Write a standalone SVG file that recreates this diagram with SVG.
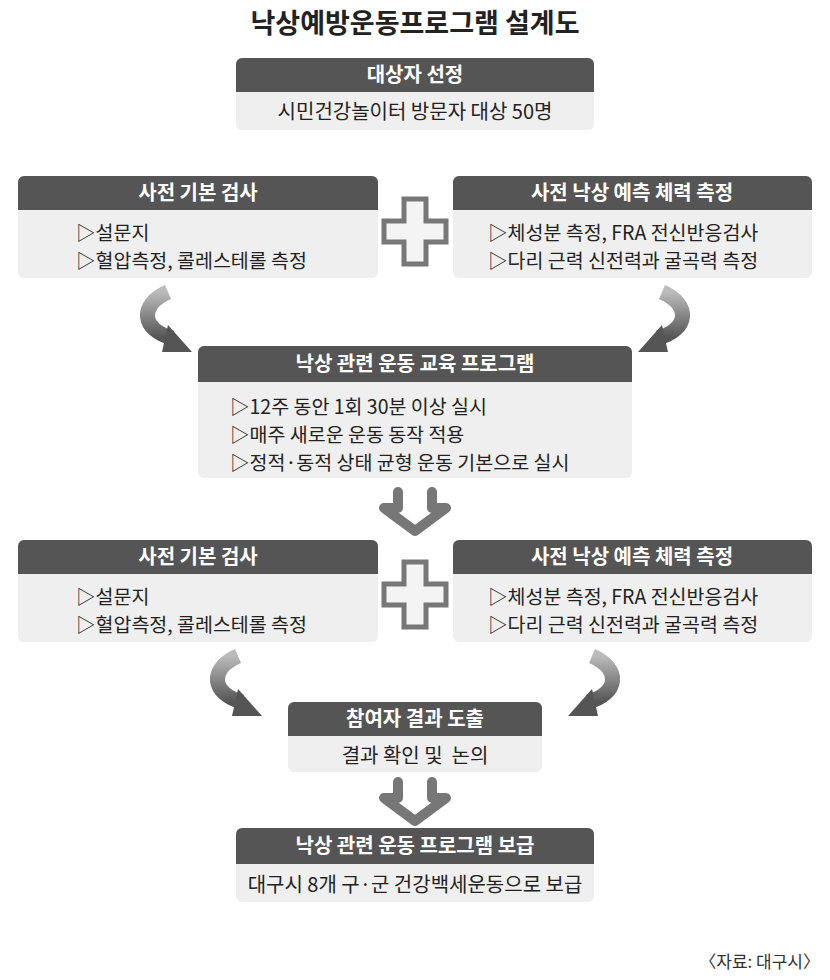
<svg xmlns="http://www.w3.org/2000/svg" width="830" height="980" viewBox="0 0 830 980">
<defs>
<style>
text{font-family:"Noto Sans CJK KR","Noto Sans",sans-serif;}
.hd{fill:#555;}
.bd{fill:#efefef;}
.ht{fill:#fff;font-size:20px;font-weight:bold;text-anchor:middle;}
.bt{fill:#222;font-size:19.5px;}
.btc{fill:#222;font-size:20px;text-anchor:middle;}
.plus{fill:#f4f4f4;stroke:#777;stroke-width:5;}
.curve{fill:none;stroke:url(#g);stroke-width:15;}
.dn{fill:none;stroke:#777;stroke-width:10;stroke-linecap:round;stroke-linejoin:round;}
</style>
<linearGradient id="g" x1="0" y1="0" x2="0" y2="1"><stop offset="0" stop-color="#bbb"/><stop offset="1" stop-color="#555"/></linearGradient>
</defs>
<rect width="830" height="980" fill="#fff"/>
<text x="415" y="33" font-size="27" font-weight="bold" text-anchor="middle" fill="#222">낙상예방운동프로그램 설계도</text>

<g id="n1"><rect class="bd" x="236" y="58" width="358" height="72" rx="6"/><rect class="hd" x="236" y="58" width="358" height="34" rx="6"/><rect class="hd" x="236" y="80" width="358" height="12"/>
<text class="ht" x="415" y="82">대상자 선정</text><text class="btc" x="415" y="119">시민건강놀이터 방문자 대상 50명</text></g>

<g id="n2"><rect class="bd" x="18" y="176" width="360" height="102" rx="6"/><rect class="hd" x="18" y="176" width="360" height="34" rx="6"/><rect class="hd" x="18" y="198" width="360" height="12"/>
<text class="ht" x="198" y="200">사전 기본 검사</text><text class="bt" x="76" y="240">▷설문지</text><text class="bt" x="76" y="268">▷혈압측정, 콜레스테롤 측정</text></g>
<g id="n3"><rect class="bd" x="453" y="176" width="359" height="102" rx="6"/><rect class="hd" x="453" y="176" width="359" height="34" rx="6"/><rect class="hd" x="453" y="198" width="359" height="12"/>
<text class="ht" x="632" y="200">사전 낙상 예측 체력 측정</text><text class="bt" x="488" y="240">▷체성분 측정, FRA 전신반응검사</text><text class="bt" x="488" y="268">▷다리 근력 신전력과 굴곡력 측정</text></g>

<g id="n4"><rect class="bd" x="198" y="346" width="434" height="132" rx="6"/><rect class="hd" x="198" y="346" width="434" height="36" rx="6"/><rect class="hd" x="198" y="370" width="434" height="12"/>
<text class="ht" x="415" y="371">낙상 관련 운동 교육 프로그램</text>
<text class="bt" x="230" y="414">▷12주 동안 1회 30분 이상 실시</text><text class="bt" x="230" y="442">▷매주 새로운 운동 동작 적용</text><text class="bt" x="230" y="470">▷정적·동적 상태 균형 운동 기본으로 실시</text></g>

<g id="n5"><rect class="bd" x="18" y="540" width="360" height="102" rx="6"/><rect class="hd" x="18" y="540" width="360" height="34" rx="6"/><rect class="hd" x="18" y="562" width="360" height="12"/>
<text class="ht" x="198" y="564">사전 기본 검사</text><text class="bt" x="76" y="604">▷설문지</text><text class="bt" x="76" y="632">▷혈압측정, 콜레스테롤 측정</text></g>
<g id="n6"><rect class="bd" x="453" y="540" width="359" height="102" rx="6"/><rect class="hd" x="453" y="540" width="359" height="34" rx="6"/><rect class="hd" x="453" y="562" width="359" height="12"/>
<text class="ht" x="632" y="564">사전 낙상 예측 체력 측정</text><text class="bt" x="488" y="604">▷체성분 측정, FRA 전신반응검사</text><text class="bt" x="488" y="632">▷다리 근력 신전력과 굴곡력 측정</text></g>

<g id="n7"><rect class="bd" x="288" y="702" width="254" height="70" rx="6"/><rect class="hd" x="288" y="702" width="254" height="34" rx="6"/><rect class="hd" x="288" y="724" width="254" height="12"/>
<text class="ht" x="415" y="726">참여자 결과 도출</text><text class="btc" x="415" y="763" xml:space="preserve">결과 확인 및  논의</text></g>

<g id="n8"><rect class="bd" x="236" y="828" width="358" height="74" rx="6"/><rect class="hd" x="236" y="828" width="358" height="36" rx="6"/><rect class="hd" x="236" y="852" width="358" height="12"/>
<text class="ht" x="415" y="853">낙상 관련 운동 프로그램 보급</text><text class="btc" x="415" y="892">대구시 8개 구·군 건강백세운동으로 보급</text></g>

<g id="connectors">
<path class="plus" d="M404,199 h22 v22 h20 v21 h-20 v22 h-22 v-22 h-20 v-21 h20 z"/>
<path class="plus" d="M404,562 h22 v22 h20 v21 h-20 v22 h-22 v-22 h-20 v-21 h20 z"/>
<path class="curve" d="M168,292 C138,305 142,330 172,338"/><polygon points="168,325 192,352 162,352" fill="#555"/>
<path class="curve" d="M662,292 C692,305 688,330 658,338"/><polygon points="662,325 638,352 668,352" fill="#555"/>
<path class="curve" d="M238,656 C208,669 212,694 242,702"/><polygon points="238,689 262,716 232,716" fill="#555"/>
<path class="curve" d="M592,656 C622,669 618,694 588,702"/><polygon points="592,689 568,716 598,716" fill="#555"/>
<path class="dn" d="M398,492 v16 h-14 l31,23 l31,-23 h-14 v-16"/>
<path class="dn" d="M398,782 v16 h-14 l31,23 l31,-23 h-14 v-16"/>
</g>
<text x="820" y="968" font-size="17" text-anchor="end" fill="#333">〈자료: 대구시〉</text>
</svg>
